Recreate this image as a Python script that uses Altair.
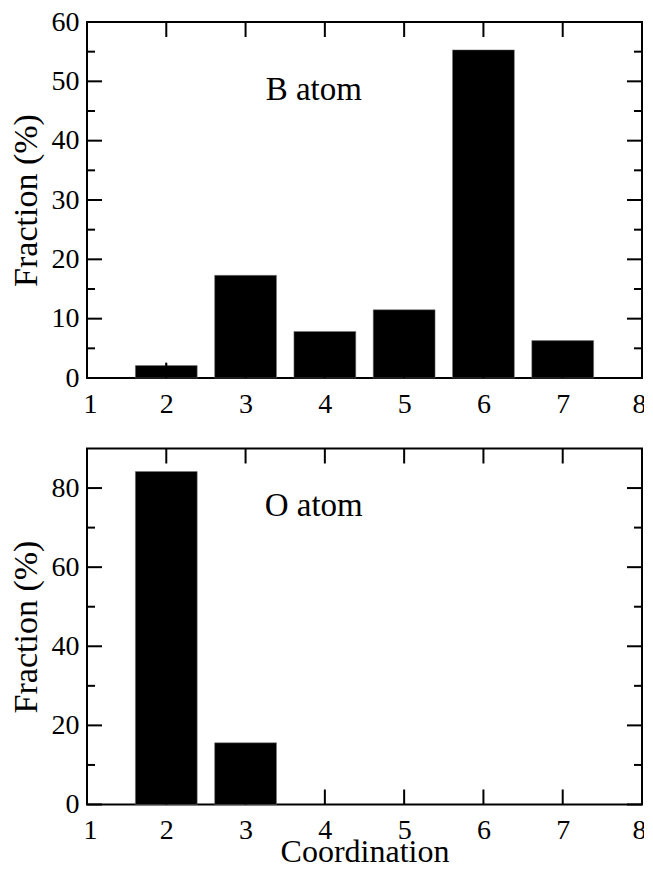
import altair as alt
import pandas as pd

# ---- data ----
coord_b = [2, 3, 4, 5, 6, 7]
frac_b = [2.1, 17.3, 7.85, 11.5, 55.3, 6.3]
err_b_x = [2]
err_b_lo = [2.1]
err_b_hi = [2.6]

coord_o = [2, 3]
frac_o = [84.2, 15.6]

x_labels = [1, 2, 3, 4, 5, 6, 7, 8]
x_inner = [2, 3, 4, 5, 6, 7]
y_major_b = [0, 10, 20, 30, 40, 50, 60]
y_minor_b = [5, 15, 25, 35, 45, 55]
y_major_o = [0, 20, 40, 60, 80]
y_minor_o = [10, 30, 50, 70]

label_b = ["B atom"]
label_b_x = [3.86]
label_b_y = [46.8]
label_o = ["O atom"]
label_o_x = [3.86]
label_o_y = [73.0]

# ---- style ----
FONT = "Liberation Serif"
W, H = 555, 356
HALF = 0.39
MAJ, MIN = 15, 8
LW = 2


def panel(coords, fracs, ymax, ymaj, ymin, lab, lx, ly, xtitle, err=None):
    xs = alt.Scale(domain=[1, 8], nice=False, zero=False)
    ys = alt.Scale(domain=[0, ymax], nice=False, zero=True)
    bars_df = pd.DataFrame({"c": coords, "f": fracs})
    bars = (
        alt.Chart(bars_df)
        .transform_calculate(x0=f"datum.c - {HALF}", x1=f"datum.c + {HALF}")
        .mark_rect(color="black", stroke="#777777", strokeWidth=0.5)
        .encode(
            x=alt.X(
                "x0:Q",
                scale=xs,
                axis=alt.Axis(
                    values=x_labels,
                    ticks=False,
                    domain=False,
                    grid=False,
                    labelPadding=12,
                    labelFlush=True,
                    labelFlushOffset=4,
                    labelFont=FONT,
                    labelColor="black",
                    labelFontSize=28,
                    titleFont=FONT,
                    titleColor="black",
                    titleFontWeight="normal",
                    titleFontSize=32,
                    titlePadding=-8.5,
                    format="d",
                ),
                title=xtitle if xtitle else "",
            ),
            x2="x1:Q",
            y=alt.Y(
                "f:Q",
                scale=ys,
                axis=alt.Axis(
                    values=ymaj,
                    ticks=False,
                    domain=False,
                    grid=False,
                    labelPadding=8,
                    labelFont=FONT,
                    labelColor="black",
                    labelFontSize=28,
                    titleFont=FONT,
                    titleColor="black",
                    titleFontWeight="normal",
                    titleFontSize=34,
                    titlePadding=7.5,
                    format="d",
                ),
                title="Fraction (%)",
            ),
            y2=alt.datum(0),
        )
    )
    layers = [bars]
    if err is not None:
        edf = pd.DataFrame({"x": err[0], "lo": err[1], "hi": err[2]})
        layers.append(
            alt.Chart(edf)
            .mark_rule(color="black", strokeWidth=1.5)
            .encode(x=alt.X("x:Q", scale=xs), y=alt.Y("lo:Q", scale=ys), y2="hi:Q")
        )
    xt = pd.DataFrame({"v": x_inner})
    for (a, b) in [(0, MAJ), (H - MAJ, H)]:
        layers.append(
            alt.Chart(xt)
            .mark_rule(color="black", strokeWidth=LW)
            .encode(x=alt.X("v:Q", scale=xs), y=alt.value(a), y2=alt.value(b))
        )
    for vals, ln in [(ymaj, MAJ), (ymin, MIN)]:
        yt = pd.DataFrame({"v": vals})
        for (a, b) in [(0, ln), (W - ln, W)]:
            layers.append(
                alt.Chart(yt)
                .mark_rule(color="black", strokeWidth=LW)
                .encode(y=alt.Y("v:Q", scale=ys), x=alt.value(a), x2=alt.value(b))
            )
    tdf = pd.DataFrame({"x": lx, "y": ly, "t": lab})
    layers.append(
        alt.Chart(tdf)
        .mark_text(font=FONT, fontSize=33, color="black", align="center", baseline="alphabetic")
        .encode(x=alt.X("x:Q", scale=xs), y=alt.Y("y:Q", scale=ys), text="t:N")
    )
    return alt.layer(*layers).properties(width=W, height=H)


top = panel(coord_b, frac_b, 60, y_major_b, y_minor_b, label_b, label_b_x, label_b_y, None,
            err=(err_b_x, err_b_lo, err_b_hi))
bottom = panel(coord_o, frac_o, 90, y_major_o, y_minor_o, label_o, label_o_x, label_o_y, "Coordination")

chart = (
    alt.vconcat(top, bottom, spacing=27.5)
    .properties(padding={"left": 0, "top": -1, "right": -3, "bottom": -6}, background="white")
    .configure(
        font=FONT,
        view=alt.ViewConfig(stroke="black", strokeWidth=LW),
        axis=alt.AxisConfig(labelFont=FONT, titleFont=FONT),
        style={"guide-label": {"font": FONT}, "guide-title": {"font": FONT}},
    )
)

chart.save("out.html", embed_options={"renderer": "svg", "actions": False})
